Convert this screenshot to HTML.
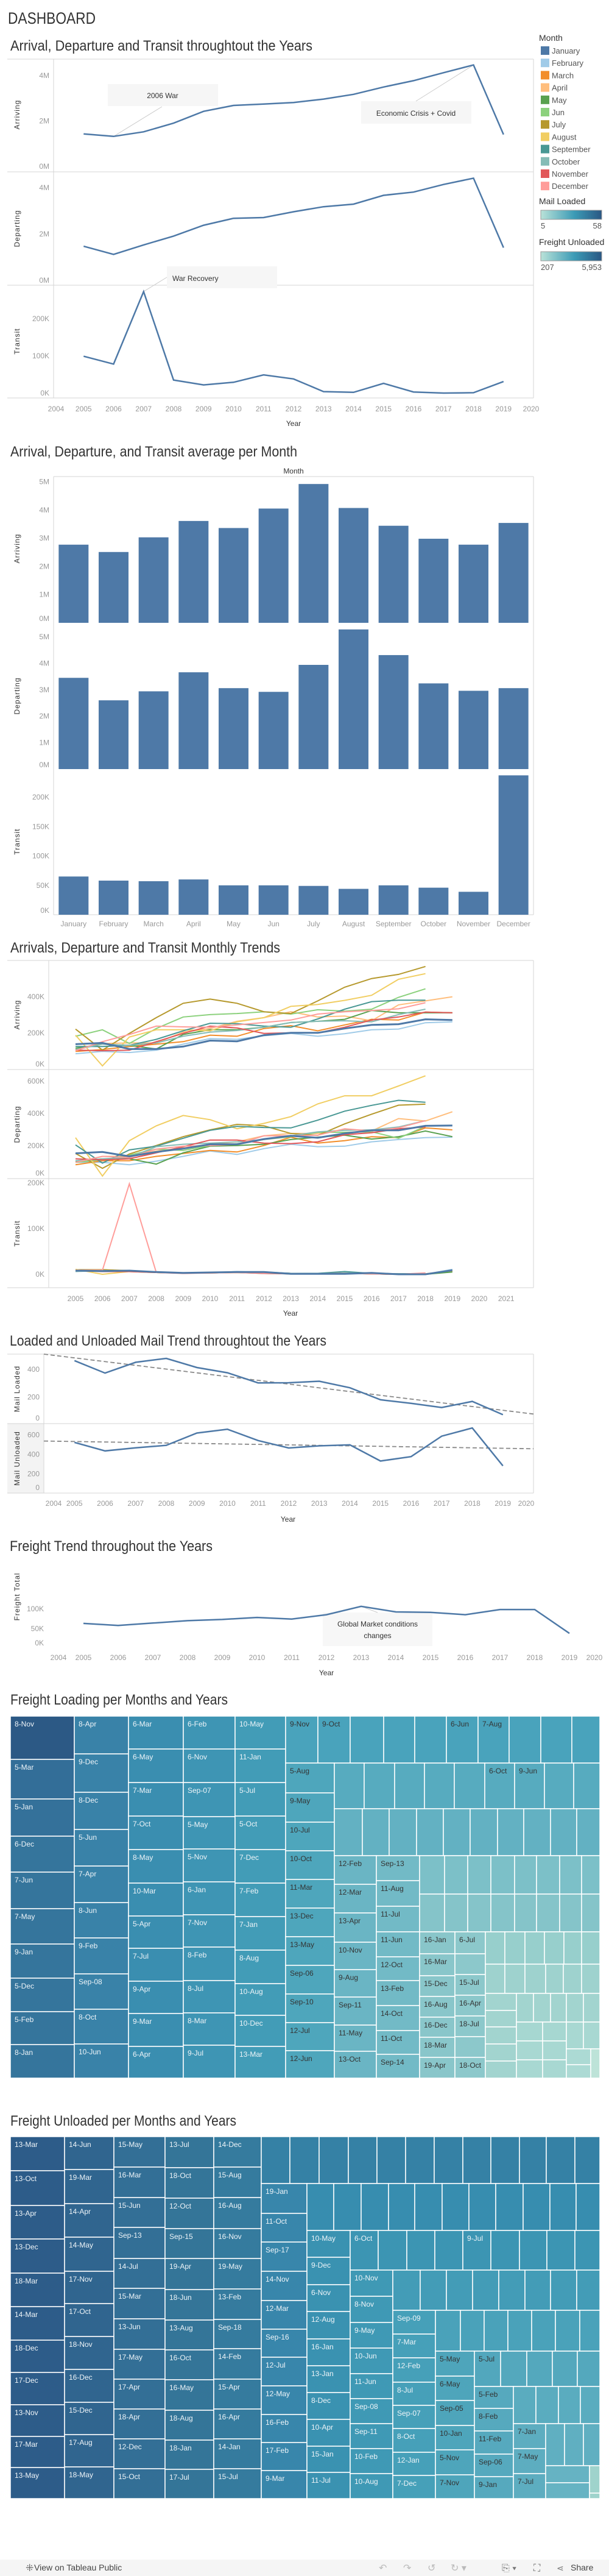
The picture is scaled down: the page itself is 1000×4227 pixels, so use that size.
<!DOCTYPE html>
<html><head><meta charset="utf-8"><title>Dashboard</title>
<style>
html,body{margin:0;padding:0;background:#fff;}
svg{display:block;font-family:"Liberation Sans Narrow","Liberation Sans",sans-serif;}
.tk{font-size:12px;fill:#999;}
.ax{font-size:12px;fill:#333;}
.ttl{font-size:24px;fill:#333;}
.lg{font-size:13px;fill:#555;}
</style></head>
<body>
<svg id="svg" xmlns="http://www.w3.org/2000/svg" width="1000" height="4227" viewBox="0 0 1000 4227">
<text x="13" y="39" font-size="27" fill="#333" textLength="144" lengthAdjust="spacingAndGlyphs">DASHBOARD</text>
<text class="ttl" x="17" y="83" textLength="496" lengthAdjust="spacingAndGlyphs">Arrival, Departure and Transit throughtout the Years</text>
<text class="ttl" x="17" y="749" textLength="471" lengthAdjust="spacingAndGlyphs">Arrival, Departure, and Transit average per Month</text>
<text class="ttl" x="17" y="1563" textLength="443" lengthAdjust="spacingAndGlyphs">Arrivals, Departure and Transit Monthly Trends</text>
<text class="ttl" x="16" y="2208" textLength="520" lengthAdjust="spacingAndGlyphs">Loaded and Unloaded Mail Trend throughtout the Years</text>
<text class="ttl" x="16" y="2545" textLength="333" lengthAdjust="spacingAndGlyphs">Freight Trend throughout the Years</text>
<text class="ttl" x="17" y="2797" textLength="357" lengthAdjust="spacingAndGlyphs">Freight Loading per Months and Years</text>
<text class="ttl" x="17" y="3488" textLength="371" lengthAdjust="spacingAndGlyphs">Freight Unloaded per Months and Years</text>

<g id="legend">
<text x="885" y="67" font-size="14" fill="#333">Month</text>
</g>
<g>
<defs><linearGradient id="gr" x1="0" x2="1" y1="0" y2="0"><stop offset="0" stop-color="#b9e2d8"/><stop offset="0.55" stop-color="#3c9bb6"/><stop offset="1" stop-color="#2a5783"/></linearGradient></defs>
<text x="885" y="335" font-size="14" fill="#333">Mail Loaded</text>
<rect x="888" y="345" width="100" height="15" fill="url(#gr)" stroke="#999"/>
<text class="lg" x="888" y="375">5</text>
<text class="lg" x="988" y="375" text-anchor="end">58</text>
<text x="885" y="402" font-size="14" fill="#333">Freight Unloaded</text>
<rect x="888" y="413" width="100" height="15" fill="url(#gr)" stroke="#999"/>
<text class="lg" x="888" y="443">207</text>
<text class="lg" x="988" y="443" text-anchor="end">5,953</text>
</g>

<g>
<rect x="0" y="4200" width="1000" height="27" fill="#f5f5f5"/>
<text x="42" y="4219" font-size="16" fill="#666">⁜</text>
<text x="56" y="4218" font-size="14" fill="#444">View on Tableau Public</text>
<text x="622" y="4219" font-size="16" fill="#bbb">↶</text>
<text x="662" y="4219" font-size="16" fill="#bbb">↷</text>
<text x="702" y="4219" font-size="16" fill="#bbb">↺</text>
<text x="740" y="4219" font-size="16" fill="#bbb">↻ ▾</text>
<text x="824" y="4219" font-size="16" fill="#777">⎘ ▾</text>
<text x="876" y="4219" font-size="16" fill="#777">⛶</text>
<text x="914" y="4219" font-size="14" fill="#777">⋖</text>
<text x="937" y="4218" font-size="14" fill="#444">Share</text>
</g>
</svg>
<script>
// ---------- DATA ----------
const years1 = [2005,2006,2007,2008,2009,2010,2011,2012,2013,2014,2015,2016,2017,2018,2019];
const arriving1 = [1.43,1.32,1.52,1.90,2.42,2.68,2.74,2.81,2.96,3.17,3.49,3.77,4.12,4.46,1.40];
const departing1 = [1.47,1.12,1.53,1.91,2.38,2.68,2.71,2.96,3.18,3.29,3.67,3.81,4.14,4.41,1.41];
const transit1 = [99,78,273,35,22,29,49,38,4,2,26,3,0,1,31];
const yearTicks1 = [2004,2005,2006,2007,2008,2009,2010,2011,2012,2013,2014,2015,2016,2017,2018,2019,2020];

const months = ["January","February","March","April","May","Jun","July","August","September","October","November","December"];
const arriving2 = [2.77,2.51,3.03,3.61,3.36,4.05,4.92,4.07,3.44,2.98,2.77,3.54];
const departing2 = [3.45,2.60,2.94,3.66,3.06,2.92,3.94,5.28,4.31,3.24,2.96,3.06];
const transit2 = [65,58,57,60,50,50,49,44,50,46,39,237];

const monthColors = ["#4e79a7","#a0cbe8","#f28e2b","#ffbe7d","#59a14f","#8cd17d","#b6992d","#f1ce63","#499894","#86bcb6","#e15759","#ff9d9a"];
const yearTicks3 = [2005,2006,2007,2008,2009,2010,2011,2012,2013,2014,2015,2016,2017,2018,2019,2020,2021];
const arrJan=[137,144,110,110,124,157,153,187,200,200,224,244,248,275,271];
const arrFeb=[84,97,91,104,137,168,164,184,197,181,195,217,221,256,261];
const arrMar=[97,107,124,137,151,187,181,224,240,211,244,275,271,315,311];
const arrApr=[104,141,144,144,204,224,264,284,317,288,293,267,355,377,400];
const arrMay=[115,137,131,110,191,217,217,231,257,264,275,324,311,311,311];
const arrJun=[181,217,141,224,288,301,307,317,304,328,320,331,397,444];
const arrJul=[221,104,197,284,364,387,364,317,307,377,453,501,524,568];
const arrAug=[187,17,177,217,217,211,261,284,347,357,380,408,497,528];
const arrSep=[124,124,131,164,211,253,251,237,231,277,331,373,381,381];
const arrOct=[107,137,131,144,181,204,213,231,257,264,267,261,301,331];
const arrNov=[104,101,104,151,197,237,227,197,200,200,231,271,288,315,311];
const arrDec=[101,151,191,237,233,231,244,257,271,304,317,324,333,367];
const depJan=[153,161,134,161,182,209,209,241,261,249,276,295,295,323,325];
const depFeb=[97,97,82,104,134,167,146,182,209,194,197,224,238,250,253];
const depMar=[82,107,107,134,152,171,161,201,253,216,231,256,250,310,298];
const depApr=[97,134,134,167,186,209,224,261,276,276,301,291,368,353,410];
const depMay=[104,119,119,86,156,197,201,209,238,253,265,241,256,291,256];
const depJun=[97,112,142,179,171,201,212,238,256,283,283,286,246,320];
const depJul=[152,60,149,201,256,298,332,323,276,264,335,395,451,457];
const depAug=[250,12,231,323,387,361,305,338,380,459,509,509,570,633];
const depSep=[205,92,174,197,246,295,320,313,310,358,414,450,481,469];
const depOct=[107,119,127,194,209,216,224,238,261,286,295,298,316,355];
const depNov=[119,112,119,156,194,235,235,216,213,224,268,280,305,316];
const depDec=[97,134,127,179,197,201,209,261,261,265,305,291,310,355];
const trJan=[8,7,8,5,3,4,5,5,1,1,1,3,0,0,9];
const trFeb=[7,8,7,4,3,3,6,4,2,1,2,2,1,0,11];
const trMar=[8,7,6,4,3,3,4,3,1,1,2,1,0,1,7];
const trApr=[9,8,7,4,3,3,4,3,2,1,2,2,0,1,8];
const trMay=[10,10,7,4,3,4,4,2,1,1,2,1,0,0,5];
const trJun=[9,9,7,4,3,4,4,3,2,1,3,2,0,0];
const trJul=[10,10,8,5,3,4,5,4,2,1,2,2,1,1];
const trAug=[11,0,6,4,3,3,4,3,1,2,1,2,0,2];
const trSep=[7,8,8,4,3,4,5,5,2,2,6,2,1,1];
const trOct=[6,8,7,5,3,4,5,4,2,1,3,2,1,1];
const trNov=[8,6,6,4,2,3,4,2,1,1,2,1,0,2];
const trDec=[9,9,198,4,3,3,4,3,1,1,2,1,0,3];

const mailLoaded = [464,374,452,480,414,376,303,304,315,268,181,155,125,169,73];
const mailUnloaded = [524,437,469,494,620,659,543,467,489,499,333,378,588,672,284];
const trendYears = [2004,2020];
const loadedTrend = [511,78];
const unloadedTrend = [538,459];

const freightTotal = [63,58,64,70,73,78,74,85,106,92,91,85,98,98,38];

// ---------- HELPERS ----------
const NS="http://www.w3.org/2000/svg";
const S=document.getElementById('svg');
function mk(tag,attrs,parent){const e=document.createElementNS(NS,tag);for(const k in attrs)e.setAttribute(k,attrs[k]);(parent||S).appendChild(e);return e;}
function tx(x,y,s,cls,anchor){const e=mk('text',{x:x,y:y,class:cls,'text-anchor':anchor||'start'});e.textContent=s;return e;}
function pathD(xs,ys,xf,yf){let d='';for(let i=0;i<ys.length;i++){if(ys[i]==null)continue;d+=(d?'L':'M')+xf(xs[i]).toFixed(1)+','+yf(ys[i]).toFixed(1);}return d;}
function hline(x1,x2,y){return mk('line',{x1:x1,x2:x2,y1:y,y2:y,stroke:'#d4d4d4','stroke-width':1});}
function vline(x,y1,y2){return mk('line',{x1:x,x2:x,y1:y1,y2:y2,stroke:'#d4d4d4','stroke-width':1});}
function vtitle(x,y,s){const e=mk('text',{x:x,y:y,class:'ax','text-anchor':'middle','letter-spacing':'1',transform:'rotate(-90 '+x+' '+y+')'});e.textContent=s;return e;}
let el;

// ---------- LEGEND ----------
const LG=document.getElementById('legend');
months.forEach((m,i)=>{
  const y=83+i*20.2;
  el=mk('rect',{x:888,y:y-7,width:14,height:14,fill:monthColors[i]},LG);
  
  
  el=mk('text',{x:906,y:y+5,class:'lg'},LG); el.textContent=m;
  
  
});

// ---------- SECTION 1 ----------
const x1=y=>88+(y-2004)*49.25;
const yA1=v=>273-v*37.3, yD1=v=>460-v*38, yT1=v=>645-v*0.61;
[97,282,468,653].forEach(y=>{el=hline(12,876,y);});
el=vline(88,97,653);
el=vline(876,97,653);
[[0,'0M'],[2,'2M'],[4,'4M']].forEach(t=>{el=tx(81,yA1(t[0])+4,t[1],'tk','end');});
[[0,'0M'],[2,'2M'],[4,'4M']].forEach(t=>{el=tx(81,yD1(t[0])+4,t[1],'tk','end');});
[[0,'0K'],[100,'100K'],[200,'200K']].forEach(t=>{el=tx(81,yT1(t[0])+4,t[1],'tk','end');});
el=vtitle(32,188,'Arriving');
el=vtitle(32,375,'Departing');
el=vtitle(32,560,'Transit');
yearTicks1.forEach(y=>{el=tx(x1(y)+(y==2004?4:y==2020?-4:0),675,String(y),'tk','middle');});
el=tx(482,699,'Year','ax','middle');
// annotations
el=mk('rect',{x:177,y:138,width:181,height:36,fill:'#f6f6f6'});
el=mk('line',{x1:266,y1:175,x2:x1(2006),y2:yA1(arriving1[1]),stroke:'#ccc'});
el=tx(267,161,'2006 War','ax','middle');el.setAttribute('font-size','14');
el=mk('rect',{x:593,y:166,width:181,height:37,fill:'#f6f6f6'});
el=mk('line',{x1:683,y1:166,x2:x1(2018),y2:yA1(arriving1[13]),stroke:'#ccc'});
el=tx(683,190,'Economic Crisis + Covid','ax','middle');el.setAttribute('font-size','14');
el=mk('rect',{x:274,y:437,width:181,height:36,fill:'#f6f6f6'});
el=mk('line',{x1:274,y1:455,x2:x1(2007),y2:yT1(transit1[2]),stroke:'#ccc'});
el=tx(283,461,'War Recovery','ax','start');el.setAttribute('font-size','14');
el=mk('path',{d:pathD(years1,arriving1,x1,yA1),fill:'none',stroke:'#4e79a7','stroke-width':2.5});
el=mk('path',{d:pathD(years1,departing1,x1,yD1),fill:'none',stroke:'#4e79a7','stroke-width':2.5});
el=mk('path',{d:pathD(years1,transit1,x1,yT1),fill:'none',stroke:'#4e79a7','stroke-width':2.5});

// ---------- SECTION 2 ----------
const band=788/12, bw=49;
const xb=i=>88+i*band+(band-bw)/2;
const yA2=v=>1022-v*46.3, yD2=v=>1262-v*43.4, yT2=v=>1501-v*0.965;
el=tx(482,777,'Month','ax','middle');
el=hline(88,876,782);
el=hline(88,876,1501);
el=vline(876,782,1501);
el=vline(88,782,1501);
[0,1,2,3,4,5].forEach(v=>{el=tx(81,yA2(v)+(v==0?-3:4),v+'M','tk','end');});
[0,1,2,3,4,5].forEach(v=>{el=tx(81,yD2(v)+(v==0?-3:4),v+'M','tk','end');});
[0,50,100,150,200].forEach(v=>{el=tx(81,yT2(v)+(v==0?-3:4),v+'K','tk','end');});
el=vtitle(32,900,'Arriving');
el=vtitle(32,1142,'Departing');
el=vtitle(32,1381,'Transit');
months.forEach((m,i)=>{
  el=mk('rect',{x:xb(i),y:yA2(arriving2[i]),width:bw,height:yA2(0)-yA2(arriving2[i]),fill:'#4e79a7'});
  
  
  el=mk('rect',{x:xb(i),y:yD2(departing2[i]),width:bw,height:yD2(0)-yD2(departing2[i]),fill:'#4e79a7'});
  
  
  el=mk('rect',{x:xb(i),y:yT2(transit2[i]),width:bw,height:yT2(0)-yT2(transit2[i]),fill:'#4e79a7'});
  
  
  el=tx(xb(i)+bw/2,1520,m,'tk','middle');
  
  
});

// ---------- SECTION 3 ----------
const x3=y=>124+(y-2005)*44.2;
const yA3=v=>1754-v*0.296, yD3=v=>1933-v*0.265, yT3=v=>2091-v*0.75;
[1576,1755,1934,2113].forEach(y=>{el=hline(12,876,y);});
el=vline(80,1576,2113);
el=vline(876,1576,2113);
[0,200,400].forEach(v=>{el=tx(73,yA3(v)+(v==0?-4:4),v+'K','tk','end');});
[0,200,400,600].forEach(v=>{el=tx(73,yD3(v)+(v==0?-4:4),v+'K','tk','end');});
[0,100,200].forEach(v=>{el=tx(73,yT3(v)+4,v+'K','tk','end');});
el=vtitle(32,1665,'Arriving');
el=vtitle(32,1845,'Departing');
el=vtitle(32,2024,'Transit');
yearTicks3.forEach(y=>{el=tx(x3(y),2135,String(y),'tk','middle');});
el=tx(477,2159,'Year','ax','middle');
const arrAll=[arrJan,arrFeb,arrMar,arrApr,arrMay,arrJun,arrJul,arrAug,arrSep,arrOct,arrNov,arrDec];
const depAll=[depJan,depFeb,depMar,depApr,depMay,depJun,depJul,depAug,depSep,depOct,depNov,depDec];
const trAll=[trJan,trFeb,trMar,trApr,trMay,trJun,trJul,trAug,trSep,trOct,trNov,trDec];
const order=[1,2,3,4,5,6,7,8,9,10,11,0];
order.forEach(i=>{
  const w=i==0?3:2;
  el=mk('path',{d:pathD(years1,arrAll[i],x3,yA3),fill:'none',stroke:monthColors[i],'stroke-width':w});
  
  
  el=mk('path',{d:pathD(years1,depAll[i],x3,yD3),fill:'none',stroke:monthColors[i],'stroke-width':w});
  
  
  el=mk('path',{d:pathD(years1,trAll[i],x3,yT3),fill:'none',stroke:monthColors[i],'stroke-width':w});
  
  
});

// ---------- SECTION 4 ----------
const x4=y=>72+(y-2004)*50.25;
const yL=v=>2338-v*0.227, yU=v=>2450.7-v*0.16;
el=mk('rect',{x:12,y:2336,width:60,height:114,fill:'#f3f3f3'});
[2222,2336,2450].forEach(y=>{el=hline(12,876,y);});
el=vline(72,2222,2450);
el=vline(876,2222,2450);
[0,200,400].forEach(v=>{el=tx(65,(v==0?2331:yL(v)+4),String(v),'tk','end');});
[0,200,400,600].forEach(v=>{el=tx(65,(v==0?2445:yU(v)+4),String(v),'tk','end');});
el=vtitle(32,2279,'Mail Loaded');
el=vtitle(32,2393,'Mail Unloaded');
yearTicks1.forEach(y=>{el=tx(x4(y)+(y==2004?16:y==2020?-12:0),2471,String(y),'tk','middle');});
el=tx(473,2497,'Year','ax','middle');
el=mk('path',{d:pathD(trendYears,loadedTrend,x4,yL),fill:'none',stroke:'#8a8a8a','stroke-width':1.8,'stroke-dasharray':'7,4'});
el=mk('path',{d:pathD(trendYears,unloadedTrend,x4,yU),fill:'none',stroke:'#8a8a8a','stroke-width':1.8,'stroke-dasharray':'7,4'});
el=mk('path',{d:pathD(years1,mailLoaded,x4,yL),fill:'none',stroke:'#4e79a7','stroke-width':2.5});
el=mk('path',{d:pathD(years1,mailUnloaded,x4,yU),fill:'none',stroke:'#4e79a7','stroke-width':2.5});

// ---------- SECTION 5 ----------
const x5=y=>80+(y-2004)*57;
const yF=v=>2705-v*0.652;
[0,50,100].forEach(v=>{el=tx(72,(v==0?2700:yF(v)+4),v+'K','tk','end');});
el=vtitle(32,2620,'Freight Total');
yearTicks1.forEach(y=>{el=tx(x5(y)+(y==2004?16:y==2020?-16:0),2724,String(y),'tk','middle');});
el=tx(536,2749,'Year','ax','middle');
el=mk('rect',{x:530,y:2646,width:180,height:55,fill:'#f7f7f7'});
el=mk('line',{x1:620,y1:2646,x2:x5(2013),y2:yF(freightTotal[8]),stroke:'#ccc'});
el=tx(620,2669,'Global Market conditions','ax','middle');el.setAttribute('font-size','14');
el=tx(620,2688,'changes','ax','middle');el.setAttribute('font-size','14');
el=mk('path',{d:pathD(years1,freightTotal,x5,yF),fill:'none',stroke:'#4e79a7','stroke-width':2.5});

// ---------- TREEMAPS ----------
function tile(x0,x1,y0,y1,label,color,dark,group){
  el=mk('rect',{x:x0,y:y0,width:x1-x0,height:y1-y0,fill:color,stroke:'#fff','stroke-width':1.5});
  
  
  if(label&&(y1-y0)>18){
    el=mk('text',{x:x0+7,y:y0+17,'font-size':12,fill:dark?'#333':'#eef4f8'});
    el.textContent=label;
    
    
  }
}
function col(g,x0,x1,y0,rows,color,dark){let y=y0;rows.forEach(r=>{tile(x0,x1,y,r[0],r[1],r[2]||color,dark,g);y=r[0];});}
function bandT(g,y0,y1,xs,color,labels,dark){for(let i=0;i<xs.length-1;i++)tile(xs[i],xs[i+1],y0,y1,(labels&&labels[i])||'',color,dark,g);}

// Freight loading
const G1='freight-loading';
col(G1,17,122,2816,[[2887,'8-Nov','#2c5985'],[2952,'5-Mar','#336e98'],[3013,'5-Jan','#34719a'],[3072,'6-Dec'],[3132,'7-Jun'],[3190,'7-May'],[3246,'9-Jan'],[3301,'5-Dec'],[3355,'5-Feb'],[3410,'8-Jan']],'#35759c');
col(G1,122,211,2816,[[2878,'8-Apr'],[2941,'9-Dec'],[3002,'8-Dec'],[3062,'5-Jun'],[3122,'7-Apr'],[3180,'8-Jun'],[3239,'9-Feb'],[3297,'Sep-08'],[3354,'8-Oct'],[3410,'10-Jun']],'#3982a8');
col(G1,211,301,2816,[[2870,'6-Mar'],[2925,'6-May'],[2980,'7-Mar'],[3035,'7-Oct'],[3090,'8-May'],[3144,'10-Mar'],[3197,'5-Apr'],[3251,'7-Jul'],[3304,'9-Apr'],[3358,'9-Mar'],[3410,'6-Apr']],'#3a8eb0');
col(G1,301,386,2816,[[2870,'6-Feb'],[2925,'6-Nov'],[2981,'Sep-07'],[3034,'5-May'],[3088,'5-Nov'],[3142,'6-Jan'],[3195,'7-Nov'],[3250,'8-Feb'],[3303,'8-Jul'],[3356,'8-Mar'],[3410,'9-Jul']],'#3e95b4');
col(G1,386,469,2816,[[2870,'10-May'],[2925,'11-Jan'],[2980,'5-Jul'],[3035,'5-Oct'],[3090,'7-Dec'],[3145,'7-Feb'],[3200,'7-Jan'],[3255,'8-Aug'],[3307,'10-Aug'],[3358,'10-Dec'],[3410,'13-Mar']],'#429cb7');
bandT(G1,2816,2893,[469,522,575,630,681,733,785,836,888,939,985],'#49a3bc',['9-Nov','9-Oct','','','','6-Jun','7-Aug'],true);
col(G1,469,549,2893,[[2942,'5-Aug'],[2990,'9-May'],[3037,'10-Jul'],[3084,'10-Oct'],[3131,'11-Mar'],[3178,'13-Dec'],[3225,'13-May'],[3272,'Sep-06'],[3319,'Sep-10'],[3365,'12-Jul'],[3410,'12-Jun']],'#4ea6bc',true);
bandT(G1,2893,2968,[549,598,648,697,746,796,845,894,942,985],'#57abbf',['','','','','','6-Oct','9-Jun'],true);
bandT(G1,2968,3045,[549,595,639,684,728,772,817,860,904,947,985],'#63b1c2',null,true);
col(G1,549,618,3045,[[3092,'12-Feb'],[3139,'12-Mar'],[3187,'13-Apr'],[3232,'10-Nov'],[3277,'9-Aug'],[3323,'Sep-11'],[3366,'11-May'],[3410,'13-Oct']],'#6ab5c4',true);
col(G1,618,689,3045,[[3086,'Sep-13'],[3128,'11-Aug'],[3170,'11-Jul'],[3211,'11-Jun'],[3250,'12-Oct'],[3291,'13-Feb'],[3332,'14-Oct'],[3371,'11-Oct'],[3410,'Sep-14']],'#72bac6',true);
bandT(G1,3045,3108,[689,730,768,806,845,881,919,955,985],'#7cc0c8',null,true);
bandT(G1,3108,3170,[689,730,768,806,845,881,919,955,985],'#85c4c9',null,true);
col(G1,689,747,3170,[[3206,'16-Jan'],[3242,'16-Mar'],[3276,'15-Dec'],[3310,'16-Aug'],[3343,'16-Dec'],[3376,'18-Mar'],[3410,'19-Apr']],'#89c6ca',true);
col(G1,747,797,3170,[[3206,'6-Jul'],[3240,''],[3274,'15-Jul'],[3308,'16-Apr'],[3342,'18-Jul'],[3376,''],[3410,'18-Oct']],'#8cc8cb',true);
bandT(G1,3170,3223,[797,829,862,894,926,955,985],'#97cfcc',null,true);
bandT(G1,3223,3271,[797,829,862,896,925,955,985],'#9ed2ce',null,true);
col(G1,797,848,3271,[[3299,''],[3326,''],[3354,''],[3382,''],[3410,'']],'#a2d4cf',true);
bandT(G1,3271,3318,[848,876,904,930,958,985],'#a2d4cf',null,true);
bandT(G1,3318,3349,[848,891,930],'#a6d7d1',null,true);
bandT(G1,3349,3380,[848,891,930],'#a8d8d2',null,true);
bandT(G1,3380,3410,[848,891,930],'#a8d8d2',null,true);
bandT(G1,3318,3362,[930,958,985],'#a8d8d2',null,true);
col(G1,930,970,3362,[[3388,''],[3410,'']],'#acdad4',true);
tile(970,985,3362,3410,'','#bde3d8',true,G1);

// Freight unloaded
const G2='freight-unloaded';
col(G2,17,106,3506,[[3562,'13-Mar'],[3619,'13-Oct'],[3674,'13-Apr'],[3730,'13-Dec'],[3785,'18-Mar'],[3840,'14-Mar'],[3893,'18-Dec'],[3946,'17-Dec'],[3998,'13-Nov'],[4049,'17-Mar'],[4100,'13-May']],'#2d5c89');
col(G2,106,187,3506,[[3560,'14-Jun'],[3616,'19-Mar'],[3671,'14-Apr'],[3727,'14-May'],[3780,'17-Nov'],[3834,'17-Oct'],[3888,'18-Nov'],[3942,'16-Dec'],[3995,'15-Dec'],[4048,'17-Aug'],[4100,'18-May']],'#30658f');
col(G2,187,271,3506,[[3556,'15-May'],[3606,'16-Mar'],[3655,'15-Jun'],[3706,'Sep-13'],[3755,'14-Jul'],[3805,'15-Mar'],[3855,'13-Jun'],[3904,'17-May'],[3953,'17-Apr'],[4002,'18-Apr'],[4051,'12-Dec'],[4100,'15-Oct']],'#336f96');
col(G2,271,351,3506,[[3557,'13-Jul'],[3607,'18-Oct'],[3657,'12-Oct'],[3706,'Sep-15'],[3757,'19-Apr'],[3807,'18-Jun'],[3856,'13-Aug'],[3905,'16-Oct'],[3955,'16-May'],[4004,'18-Aug'],[4052,'18-Jan'],[4100,'17-Jul']],'#347598');
col(G2,351,429,3506,[[3556,'14-Dec'],[3606,'15-Aug'],[3657,'16-Aug'],[3706,'16-Nov'],[3756,'19-May'],[3806,'13-Feb'],[3854,'Sep-18'],[3904,'14-Feb'],[3953,'15-Apr'],[4002,'16-Apr'],[4051,'14-Jan'],[4100,'15-Jul']],'#357b9e');
bandT(G2,3506,3583,[429,476,524,572,619,666,713,760,806,853,897,944,985],'#3581a5',null,false);
col(G2,429,504,3583,[[3632,'19-Jan'],[3679,'11-Oct'],[3727,'Sep-17'],[3775,'14-Nov'],[3822,'12-Mar'],[3868,'Sep-16'],[3915,'12-Jul'],[3962,'12-May'],[4008,'16-Feb'],[4054,'17-Feb'],[4100,'9-Mar']],'#3886ab');
bandT(G2,3583,3660,[504,548,593,638,681,726,770,814,859,903,946,985],'#378daf',null,false);
col(G2,504,575,3660,[[3704,'10-May'],[3749,'9-Dec'],[3793,'6-Nov'],[3838,'12-Aug'],[3882,'16-Jan'],[3926,'13-Jan'],[3970,'8-Dec'],[4014,'10-Apr'],[4057,'15-Jan'],[4100,'11-Jul']],'#3a92b1');
bandT(G2,3660,3725,[575,621,668,714,760,806,853,898,944,985],'#3c95b3',['6-Oct','','','','9-Jul'],false);
col(G2,575,645,3725,[[3768,'10-Nov'],[3811,'8-Nov'],[3853,'9-May'],[3895,'10-Jun'],[3936,'11-Jun'],[3977,'Sep-08'],[4018,'Sep-11'],[4059,'10-Feb'],[4100,'10-Aug']],'#3f99b5');
bandT(G2,3725,3791,[645,690,733,776,819,862,904,947,985],'#439cb7',null,false);
col(G2,645,715,3791,[[3830,'Sep-09'],[3869,'7-Mar'],[3909,'12-Feb'],[3947,'8-Jul'],[3985,'Sep-07'],[4024,'8-Oct'],[4062,'12-Jan'],[4100,'7-Dec']],'#46a0b9');
bandT(G2,3791,3858,[715,756,795,834,873,912,952,985],'#4aa2ba',null,false);
col(G2,715,779,3858,[[3899,'5-May'],[3939,'6-May'],[3980,'Sep-05'],[4020,'10-Jan'],[4061,'5-Nov'],[4100,'7-Nov']],'#4ea5bb',true);
tile(779,822,3858,3916,'5-Jul','#52a7bd',true,G2);
bandT(G2,3858,3916,[822,865,907,948,985],'#54a8bd',null,true);
col(G2,779,843,3916,[[3952,'5-Feb'],[3989,'8-Feb'],[4027,'11-Feb'],[4064,'Sep-06'],[4100,'9-Jan']],'#56a9be',true);
bandT(G2,3916,3977,[843,880,917,953,985],'#5aacbf',null,true);
col(G2,843,896,3977,[[4018,'7-Jan'],[4059,'7-May'],[4100,'7-Jul']],'#5dadc0',true);
bandT(G2,3977,4046,[896,927,958,985],'#60afc1',null,true);
col(G2,896,968,4046,[[4074,''],[4100,'']],'#66b3c3',true);
col(G2,968,985,4046,[[4091,''],[4100,'']],'#9fd3cc',true);
</script>
</body></html>
